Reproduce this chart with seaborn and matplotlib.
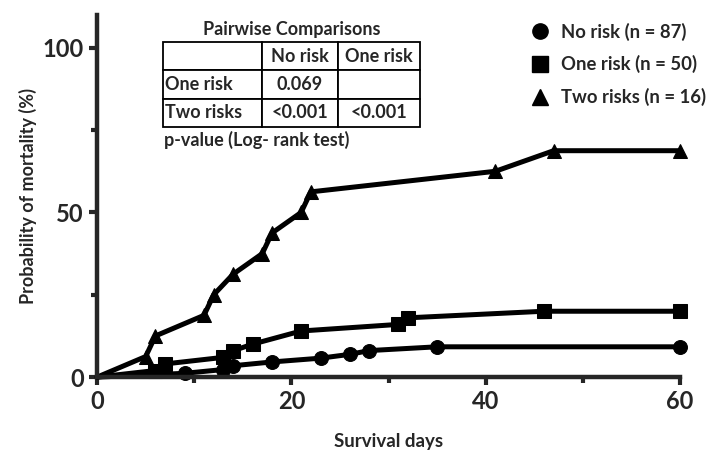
import matplotlib
matplotlib.use("Agg")
import matplotlib.pyplot as plt
import seaborn as sns
import pandas as pd
from matplotlib.lines import Line2D

# dados (dias, probabilidade de mortalidade %)
groups = ["No risk (n = 87)", "One risk (n = 50)", "Two risks (n = 16)"]
no_risk_days = [0, 9, 13, 14, 18, 23, 26, 28, 35, 60]
no_risk_prob = [0, 1.15, 2.3, 3.45, 4.6, 5.75, 6.9, 8.05, 9.2, 9.2]
one_risk_days = [0, 6, 7, 13, 14, 16, 21, 31, 32, 46, 60]
one_risk_prob = [0, 2, 4, 6, 8, 10, 14, 16, 18, 20, 20]
two_risk_days = [0, 5, 6, 11, 12, 14, 17, 18, 21, 22, 41, 47, 60]
two_risk_prob = [0, 6.25, 12.5, 18.75, 25, 31.25, 37.5, 43.75, 50, 56.25, 62.5, 68.75, 68.75]

table_cols = ["", "No risk", "One risk"]
table_rows = [["One risk", "0.069", ""], ["Two risks", "<0.001", "<0.001"]]

frames = []
for g, d, p in zip(groups, [no_risk_days, one_risk_days, two_risk_days],
                   [no_risk_prob, one_risk_prob, two_risk_prob]):
    frames.append(pd.DataFrame({"group": g, "day": d, "prob": p}))
df = pd.concat(frames, ignore_index=True)

sns.set_style("ticks")
plt.rcParams["font.family"] = ["Lato", "DejaVu Sans"]

fig = plt.figure(figsize=(7.09, 4.5), dpi=100)
ax = fig.add_axes([0.137, 0.162, 0.822, 0.805])

markers = {groups[0]: "o", groups[1]: "s", groups[2]: "^"}
sns.lineplot(data=df, x="day", y="prob", style="group", markers=markers,
             dashes=False, color="black", linewidth=3.6, markersize=10,
             markeredgecolor="black", estimator=None, sort=False,
             legend=False, ax=ax, clip_on=False, markevery=slice(1, None))

ax.set_xlim(0, 60)
ax.set_ylim(0, 110)
ax.set_xticks([0, 20, 40, 60])
ax.set_xticks([10, 30, 50], minor=True)
ax.set_yticks([0, 50, 100])
ax.set_yticks([25, 75], minor=True)
ax.tick_params(axis="both", which="major", labelsize=17, width=3, length=6)
ax.tick_params(axis="both", which="minor", width=3, length=4)
for lbl in ax.get_xticklabels() + ax.get_yticklabels():
    lbl.set_fontweight("bold")
for s in ["top", "right"]:
    ax.spines[s].set_visible(False)
for s in ["left", "bottom"]:
    ax.spines[s].set_linewidth(3.2)
ax.set_xlabel("Survival days", fontsize=13.5, fontweight="bold", labelpad=14)
ax.set_ylabel("Probability of mortality (%)", fontsize=13, fontweight="bold", labelpad=4)

# legenda
handles = [Line2D([], [], color="black", marker=markers[g], linestyle="none",
                  markersize=11) for g in groups]
leg = ax.legend(handles, groups, loc="upper left", bbox_to_anchor=(0.70, 1.025),
                frameon=False, handletextpad=0.15, labelspacing=0.8,
                prop={"size": 13.3, "weight": "bold"})

# tabela de comparações
tab = ax.table(cellText=table_rows, colLabels=table_cols, cellLoc="center",
               bbox=[0.113, 0.691, 0.441, 0.234])
tab.auto_set_font_size(False)
for (r, c), cell in tab.get_celld().items():
    cell.set_linewidth(1.3)
    cell.get_text().set_fontsize(13)
    cell.get_text().set_fontweight("bold")
    if c == 0:
        cell.get_text().set_ha("left")
        cell.PAD = 0.02
widths = [0.17, 0.13, 0.141]
for (r, c), cell in tab.get_celld().items():
    cell.set_width(widths[c])
ax.text(0.334, 0.96, "Pairwise Comparisons", transform=ax.transAxes,
        ha="center", va="center", fontsize=13, fontweight="bold")
ax.text(0.115, 0.655, "p-value (Log- rank test)", transform=ax.transAxes,
        ha="left", va="center", fontsize=13, fontweight="bold")

plt.savefig("out.png", dpi=100)
